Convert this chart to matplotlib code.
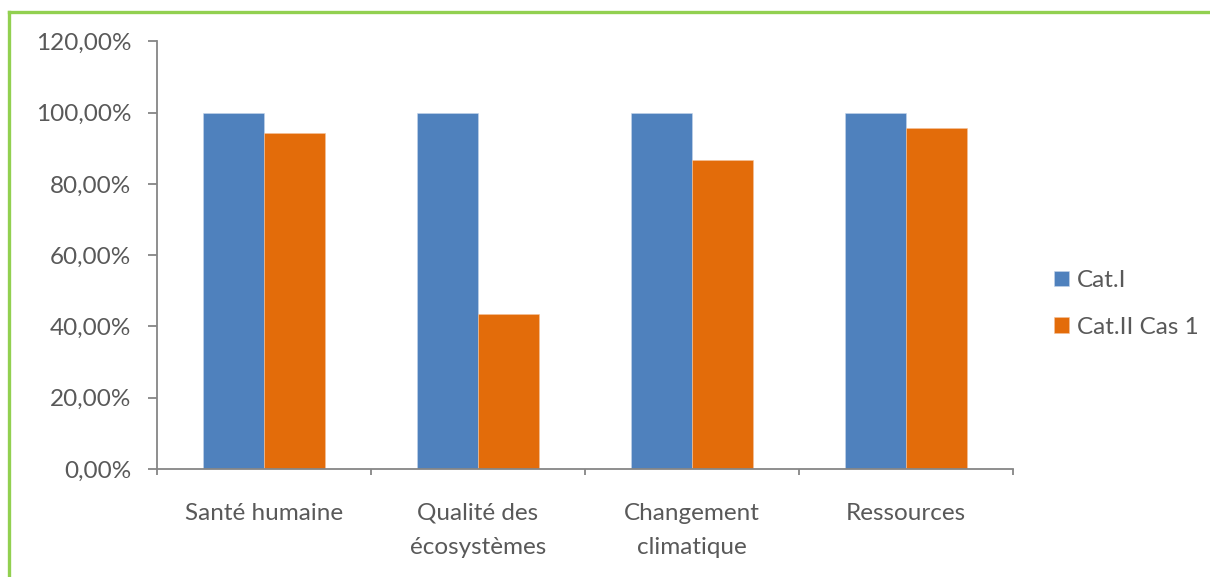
import numpy as np
import matplotlib.pyplot as plt
from matplotlib.ticker import FuncFormatter

categories = ["Santé humaine", "Qualité des\nécosystèmes", "Changement\nclimatique", "Ressources"]
cat_1 = [100.0, 100.0, 100.0, 100.0]
cat_2_cas_1 = [94.4, 43.5, 86.8, 95.6]
series_names = ["Cat.I", "Cat.II Cas 1"]

blue = "#4F81BD"
orange = "#E36C0A"
grey_text = "#595959"
axis_grey = "#868686"
fs = 17.5

plt.rcParams['font.family'] = ['Lato', 'DejaVu Sans']

fig = plt.figure(figsize=(12.1, 5.77), dpi=100)
ax = fig.add_axes([157 / 1210, 1 - 469 / 577, (1013 - 157) / 1210, (469 - 41.4) / 577])

x = np.arange(len(categories))
w = 0.285
ax.bar(x - w / 2, cat_1, w, color=blue, label=series_names[0], edgecolor="#C6D6EA", linewidth=0.4)
ax.bar(x + w / 2, cat_2_cas_1, w, color=orange, label=series_names[1], edgecolor="#F4C39C", linewidth=0.4)

ax.set_xlim(-0.5, len(categories) - 0.5)
ax.set_ylim(0, 120)
ax.set_yticks(np.arange(0, 121, 20))
ax.yaxis.set_major_formatter(FuncFormatter(lambda v, p: f"{v:.2f}%".replace(".", ",")))

ax.set_xticks(np.arange(-0.5, len(categories), 1))
ax.set_xticklabels([])
ax.tick_params(axis="x", length=4, color=axis_grey, width=1.3)
ax.tick_params(axis="y", length=6.5, color=axis_grey, width=1.3, labelsize=fs, labelcolor=grey_text, pad=12)
for i, c in enumerate(categories):
    ax.text(x[i], -9.5, c, ha="center", va="top", fontsize=fs, color=grey_text, linespacing=1.75)

for s in ["top", "right"]:
    ax.spines[s].set_visible(False)
for s in ["left", "bottom"]:
    ax.spines[s].set_color(axis_grey)
    ax.spines[s].set_linewidth(1.3)

ax.legend(loc="center left", bbox_to_anchor=(1.048, 0.386), frameon=False, fontsize=fs,
          labelcolor=grey_text, handlelength=0.6, handleheight=0.6, handletextpad=0.35,
          labelspacing=1.05, borderpad=0, borderaxespad=0)

# green frame around the chart area
green = "#92D050"
fig.add_artist(plt.Line2D([9 / 1210, 9 / 1210], [0, 1 - 12 / 577], color=green, lw=2.4,
                          transform=fig.transFigure))
fig.add_artist(plt.Line2D([9 / 1210, 1], [1 - 12 / 577, 1 - 12 / 577], color=green, lw=2.4,
                          transform=fig.transFigure))

fig.savefig("out.png", dpi=100)
